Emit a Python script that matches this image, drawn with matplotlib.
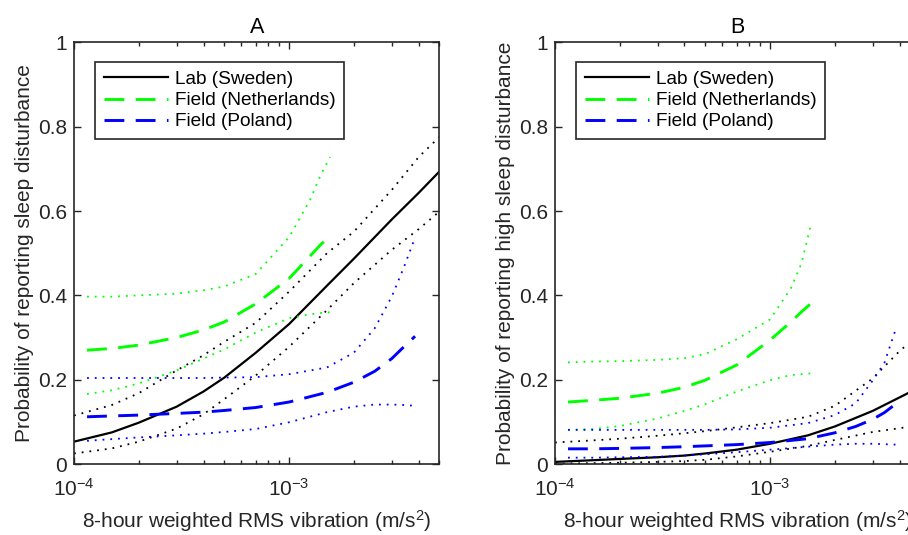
import numpy as np
import matplotlib.pyplot as plt

plt.rcParams['font.family'] = ['Liberation Sans', 'DejaVu Sans']
plt.rcParams['mathtext.fontset'] = 'custom'
plt.rcParams['mathtext.rm'] = 'Liberation Sans'
plt.rcParams['mathtext.it'] = 'Liberation Sans:italic'
plt.rcParams['mathtext.default'] = 'regular'

# exposure grids (m/s^2)
x_lab = [1e-4, 1.5e-4, 2e-4, 3e-4, 4e-4, 5e-4, 7e-4, 1e-3, 1.5e-3, 2e-3, 3e-3, 4e-3, 5e-3]
x_nl = [1.15e-4, 1.5e-4, 2e-4, 3e-4, 4e-4, 5e-4, 7e-4, 1e-3, 1.25e-3, 1.4e-3, 1.55e-3]
x_pl = [1.15e-4, 1.5e-4, 2e-4, 3e-4, 4e-4, 5e-4, 7e-4, 1e-3, 1.5e-3, 2e-3, 2.5e-3, 3e-3, 3.4e-3, 3.85e-3]

# panel A - sleep disturbance
a_lab = [0.053, 0.075, 0.098, 0.136, 0.172, 0.205, 0.264, 0.332, 0.423, 0.487, 0.580, 0.643, 0.694]
a_lab_hi = [0.115, 0.140, 0.168, 0.222, 0.258, 0.290, 0.335, 0.409, 0.500, 0.551, 0.650, 0.728, 0.776]
a_lab_lo = [0.025, 0.037, 0.053, 0.084, 0.118, 0.154, 0.210, 0.278, 0.365, 0.429, 0.508, 0.557, 0.599]
a_nl = [0.270, 0.274, 0.282, 0.300, 0.318, 0.337, 0.380, 0.440, 0.493, 0.520, 0.541]
a_nl_hi = [0.397, 0.397, 0.400, 0.404, 0.412, 0.421, 0.451, 0.538, 0.626, 0.685, 0.728]
a_nl_lo = [0.166, 0.175, 0.191, 0.222, 0.250, 0.272, 0.312, 0.346, 0.355, 0.358, 0.360]
a_pl = [0.112, 0.114, 0.116, 0.120, 0.123, 0.127, 0.134, 0.147, 0.170, 0.194, 0.220, 0.250, 0.277, 0.303]
a_pl_hi = [0.204, 0.204, 0.204, 0.204, 0.204, 0.205, 0.206, 0.213, 0.229, 0.264, 0.322, 0.397, 0.464, 0.537]
a_pl_lo = [0.055, 0.059, 0.063, 0.068, 0.072, 0.076, 0.083, 0.099, 0.123, 0.136, 0.141, 0.141, 0.140, 0.138]

# panel B - high sleep disturbance
b_lab = [0.005, 0.009, 0.012, 0.016, 0.020, 0.025, 0.034, 0.048, 0.068, 0.089, 0.126, 0.158, 0.183]
b_lab_hi = [0.051, 0.056, 0.060, 0.067, 0.073, 0.078, 0.087, 0.097, 0.112, 0.138, 0.203, 0.268, 0.310]
b_lab_lo = [0.001, 0.002, 0.003, 0.005, 0.007, 0.010, 0.018, 0.029, 0.043, 0.057, 0.076, 0.085, 0.092]
b_nl = [0.147, 0.151, 0.156, 0.168, 0.182, 0.199, 0.235, 0.294, 0.337, 0.361, 0.381]
b_nl_hi = [0.241, 0.243, 0.244, 0.247, 0.251, 0.261, 0.296, 0.343, 0.417, 0.476, 0.569]
b_nl_lo = [0.081, 0.083, 0.090, 0.108, 0.126, 0.142, 0.172, 0.199, 0.211, 0.213, 0.215]
b_pl = [0.036, 0.036, 0.037, 0.039, 0.041, 0.043, 0.046, 0.051, 0.060, 0.074, 0.089, 0.106, 0.122, 0.143]
b_pl_hi = [0.081, 0.081, 0.081, 0.081, 0.081, 0.081, 0.082, 0.086, 0.097, 0.116, 0.144, 0.198, 0.240, 0.322]
b_pl_lo = [0.015, 0.015, 0.016, 0.017, 0.020, 0.023, 0.028, 0.034, 0.041, 0.046, 0.048, 0.048, 0.047, 0.046]

labels = ['Lab (Sweden)', 'Field (Netherlands)', 'Field (Poland)']
yticks = [0, 0.2, 0.4, 0.6, 0.8, 1]
ytick_labels = ['0', '0.2', '0.4', '0.6', '0.8', '1']

GREEN = '#00ff00'
BLUE = '#0000ff'
AXC = '#262626'
DOT = (0, (1, 3.3))
DASH = (0, (6.8, 3.9))
FS = 15


def draw_panel(ax, lab, nl, pl, title, ylabel):
    # mean curves
    ax.plot(x_lab, lab[0], color='k', lw=1.6, label=labels[0])
    ax.plot(x_nl, nl[0], color=GREEN, lw=2.1, ls=DASH, label=labels[1])
    ax.plot(x_pl, pl[0], color=BLUE, lw=2.1, ls=DASH, label=labels[2])
    # confidence bounds
    for xs, curves, c in [(x_lab, lab, 'k'), (x_nl, nl, GREEN), (x_pl, pl, BLUE)]:
        ax.plot(xs, curves[1], color=c, lw=1.3, ls=DOT)
        ax.plot(xs, curves[2], color=c, lw=1.3, ls=DOT)

    ax.set_xscale('log')
    ax.set_xlim(1e-4, 5e-3)
    ax.set_ylim(0, 1)
    ax.set_xticks([1e-4, 1e-3], ['$10^{-4}$', '$10^{-3}$'])
    ax.set_yticks(yticks, ytick_labels)
    ax.tick_params(which='both', direction='in', top=True, right=True,
                   colors=AXC, labelsize=FS, width=1.0)
    ax.tick_params(axis='y', pad=5, length=5)
    ax.tick_params(axis='x', which='major', length=5, pad=10)
    ax.tick_params(axis='x', which='minor', length=3)
    for s in ax.spines.values():
        s.set_color(AXC)
        s.set_linewidth(1.2)
    ax.set_title(title, fontsize=15.5, pad=7)
    ax.set_xlabel('8-hour weighted RMS vibration (m/s$^2$)', fontsize=FS,
                  color=AXC, labelpad=6)
    ax.set_ylabel(ylabel, fontsize=FS, color=AXC, labelpad=3)
    leg = ax.legend(loc='upper left', bbox_to_anchor=(0.058, 0.953), borderaxespad=0,
                    fontsize=13.7, handlelength=3.4, handletextpad=0.35,
                    labelspacing=0.2, borderpad=0.45, fancybox=False,
                    framealpha=1, edgecolor=AXC)
    leg.get_frame().set_linewidth(1.2)


fig = plt.figure(figsize=(9.08, 5.35), dpi=100)
ax1 = fig.add_axes([0.0815, 0.1327, 0.4025, 0.788])
ax2 = fig.add_axes([0.6112, 0.1327, 0.4025, 0.788])

draw_panel(ax1, (a_lab, a_lab_hi, a_lab_lo), (a_nl, a_nl_hi, a_nl_lo),
           (a_pl, a_pl_hi, a_pl_lo), 'A', 'Probability of reporting sleep disturbance')
draw_panel(ax2, (b_lab, b_lab_hi, b_lab_lo), (b_nl, b_nl_hi, b_nl_lo),
           (b_pl, b_pl_hi, b_pl_lo), 'B', 'Probability of reporting high sleep disturbance')

fig.savefig('out.png', dpi=100)
